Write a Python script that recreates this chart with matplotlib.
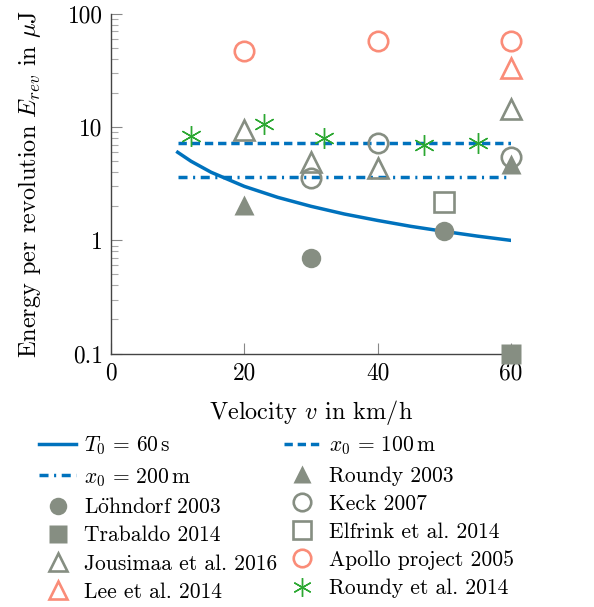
import matplotlib
matplotlib.use('Agg')
import matplotlib.pyplot as plt

plt.rcParams['font.family'] = ['cmr10', 'DejaVu Serif']
plt.rcParams['mathtext.fontset'] = 'cm'
plt.rcParams['axes.formatter.use_mathtext'] = True
plt.rcParams['font.size'] = 15.5

GRAY = '#868e82'
SALMON = '#fa8c78'
GREEN = '#2ca832'
BLUE = '#0072bd'

# theoretical curves
t0_v = [10, 12, 15, 20, 25, 30, 35, 40, 45, 50, 55, 60]
t0_e = [6.0, 5.0, 4.0, 3.0, 2.4, 2.0, 1.71, 1.5, 1.33, 1.2, 1.09, 1.0]
x100_v = [10, 60]
x100_e = [7.2, 7.2]
x200_v = [10, 60]
x200_e = [3.6, 3.6]

# literature values
roundy03_v = [20, 60]
roundy03_e = [2.05, 4.7]
lohndorf_v = [30, 50]
lohndorf_e = [0.7, 1.2]
keck_v = [30, 40, 60]
keck_e = [3.55, 7.2, 5.45]
trabaldo_v = [60]
trabaldo_e = [0.1]
elfrink_v = [50]
elfrink_e = [2.2]
jousimaa_v = [20, 30, 40, 60]
jousimaa_e = [9.4, 4.9, 4.4, 14.5]
apollo_v = [20, 40, 60]
apollo_e = [47, 58, 58]
lee_v = [60]
lee_e = [33]
roundy14_v = [12, 23, 32, 47, 55]
roundy14_e = [8.4, 10.6, 8.0, 6.9, 7.2]

fig = plt.figure(figsize=(5.94, 6.07), dpi=100)
ax = fig.add_axes([0.187, 0.4175, 0.673, 0.5595])

h_t0, = ax.plot(t0_v, t0_e, color=BLUE, lw=2.5, label=r'$T_0\,=\,60\,\mathrm{s}$')
h_x100, = ax.plot(x100_v, x100_e, color=BLUE, lw=2.5, dashes=(2.4, 1.4),
                  label=r'$x_0\,=\,100\,\mathrm{m}$')
h_x200, = ax.plot(x200_v, x200_e, color=BLUE, lw=2.5, dashes=(2.6, 1.6, 0.6, 1.6),
                  label=r'$x_0\,=\,200\,\mathrm{m}$')

ms = 14
mew = 1.9
common = dict(ls='none', clip_on=False, zorder=3)
h_roundy03, = ax.plot(roundy03_v, roundy03_e, marker='^', ms=ms, color=GRAY, mec='none',
                      label='Roundy 2003', **common)
h_lohn, = ax.plot(lohndorf_v, lohndorf_e, marker='o', ms=ms, color=GRAY, mec='none',
                  label=r'L$\ddot{\mathrm{o}}$hndorf 2003', **common)
h_keck, = ax.plot(keck_v, keck_e, marker='o', ms=ms, mfc='none', mec=GRAY, mew=mew,
                  label='Keck 2007', **common)
h_trab, = ax.plot(trabaldo_v, trabaldo_e, marker='s', ms=ms, color=GRAY, mec='none',
                  label='Trabaldo 2014', **common)
h_elf, = ax.plot(elfrink_v, elfrink_e, marker='s', ms=ms, mfc='none', mec=GRAY, mew=mew,
                 label='Elfrink et al. 2014', **common)
h_jous, = ax.plot(jousimaa_v, jousimaa_e, marker='^', ms=ms, mfc='none', mec=GRAY, mew=mew,
                  label='Jousimaa et al. 2016', **common)
h_apollo, = ax.plot(apollo_v, apollo_e, marker='o', ms=ms, mfc='none', mec=SALMON, mew=mew,
                    label='Apollo project 2005', **common)
h_lee, = ax.plot(lee_v, lee_e, marker='^', ms=ms, mfc='none', mec=SALMON, mew=mew,
                 label='Lee et al. 2014', **common)
h_r14, = ax.plot(roundy14_v, roundy14_e, marker=(6, 2, 0), ms=15, mec=GREEN, mew=1.0,
                 label='Roundy et al. 2014', ls='none', zorder=4)

ax.set_yscale('log')
ax.set_xlim(0, 60)
ax.set_ylim(0.1, 100)
ax.set_xticks([0, 20, 40, 60])
ax.set_xticklabels(['0', '20', '40', '60'])
ax.set_yticks([0.1, 1, 10, 100])
ax.set_yticklabels(['0.1', '1', '10', '100'])
ax.spines['top'].set_visible(False)
ax.spines['right'].set_visible(False)
for s in ('left', 'bottom'):
    ax.spines[s].set_color('#444444')
    ax.spines[s].set_linewidth(1.0)
ax.tick_params(which='major', direction='in', length=8, width=0.8, color='#888888',
               pad=6, labelsize=16.8)
ax.tick_params(which='minor', direction='in', length=5, width=0.8, color='#aaaaaa')
ax.tick_params(axis='x', which='minor', length=0)

ax.set_xlabel(r'Velocity $v$ in km/h', fontsize=17.5, labelpad=10)
ax.set_ylabel(r'Energy per revolution $E_{rev}$ in $\mu$J', fontsize=17.5, labelpad=18)

handles = [h_t0, h_x200, h_lohn, h_trab, h_jous, h_lee,
           h_x100, h_roundy03, h_keck, h_elf, h_apollo, h_r14]
fig.legend(handles=handles, ncol=2, loc='upper center', bbox_to_anchor=(0.465, 0.298),
           frameon=False, numpoints=1, handlelength=1.75, handletextpad=0.35,
           columnspacing=0.3, labelspacing=0.4, markerscale=0.9, borderaxespad=0)

fig.savefig('out.png', dpi=100)
